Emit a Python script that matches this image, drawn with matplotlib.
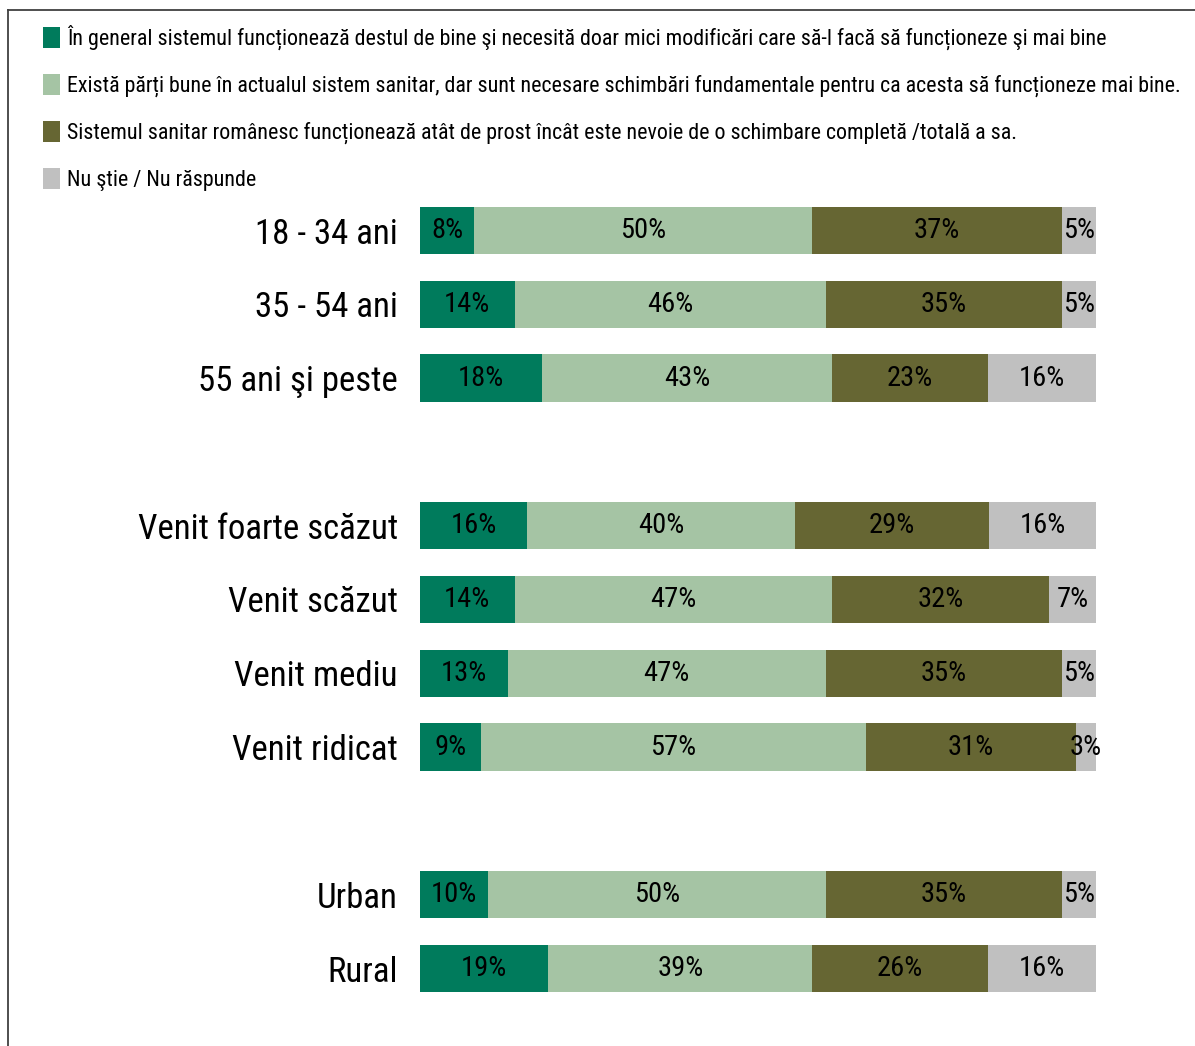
import matplotlib
matplotlib.use("Agg")
import matplotlib.pyplot as plt
import numpy as np
from matplotlib.lines import Line2D

plt.rcParams['font.family'] = ['Roboto Condensed', 'Liberation Sans', 'DejaVu Sans']

# ---------------- data ----------------
groups = [
    ["18 - 34 ani", "35 - 54 ani", "55 ani şi peste"],
    ["Venit foarte scăzut", "Venit scăzut", "Venit mediu", "Venit ridicat"],
    ["Urban", "Rural"],
]
series_names = [
    "În general sistemul funcționează destul de bine şi necesită doar mici modificări care să-l facă să funcționeze şi mai bine",
    "Există părți bune în actualul sistem sanitar, dar sunt necesare schimbări fundamentale pentru ca acesta să funcționeze mai bine.",
    "Sistemul sanitar românesc funcționează atât de prost încât este nevoie de o schimbare completă /totală a sa.",
    "Nu ştie / Nu răspunde",
]
bine      = [8, 14, 18, 16, 14, 13, 9, 10, 19]
parti     = [50, 46, 43, 40, 47, 47, 57, 50, 39]
prost     = [37, 35, 23, 29, 32, 35, 31, 35, 26]
nu_stie   = [5, 5, 16, 16, 7, 5, 3, 5, 16]
colors = ["#007b5c", "#a5c4a4", "#666633", "#c0c0c0"]
# ---------------------------------------

W, H = 1195, 1046
fig = plt.figure(figsize=(W / 100, H / 100), dpi=100)

# y slots: one empty slot between groups
labels, ypos = [], []
slot = 0
for g in groups:
    for name in g:
        labels.append(name)
        ypos.append(slot)
        slot += 1
    slot += 1
ypos = np.array(ypos)
nslots = ypos.max() + 1

top_c, bot_c = 230.5, 968.5
step = (bot_c - top_c) / (nslots - 1)
ax_top = top_c - step / 2
ax_bot = bot_c + step / 2
ax = fig.add_axes([420 / W, 1 - ax_bot / H, 676 / W, (ax_bot - ax_top) / H])

data = np.array([bine, parti, prost, nu_stie], dtype=float)
share = data / data.sum(axis=0) * 100

left = np.zeros(len(labels))
handles = []
for k in range(4):
    bars = ax.barh(ypos, share[k], left=left, height=0.64, color=colors[k], edgecolor="none")
    ax.bar_label(bars, labels=[f"{int(v)}%" for v in data[k]], label_type="center",
                 fontsize=20.5, color="black")
    handles.append(bars)
    left += share[k]

ax.set_xlim(0, 100)
ax.set_ylim(nslots - 0.5, -0.5)
ax.set_yticks(ypos)
ax.set_yticklabels(labels, fontsize=25)
ax.tick_params(axis="y", length=0, pad=16)
ax.set_xticks([])
for s in ax.spines.values():
    s.set_visible(False)

fig.legend(handles, series_names, loc="upper left", bbox_to_anchor=(43 / W, 1 - 25 / H),
           frameon=False, fontsize=15.8, handlelength=0.78, handleheight=1.05,
           handletextpad=0.3, labelspacing=1.09, borderaxespad=0, borderpad=0)

# partial frame around the chart
fig.add_artist(Line2D([8 / W, 1], [1 - 10 / H, 1 - 10 / H], color="#404040", lw=1.3))
fig.add_artist(Line2D([8 / W, 8 / W], [0, 1 - 10 / H], color="#404040", lw=1.3))

fig.savefig("out.png", dpi=100)
